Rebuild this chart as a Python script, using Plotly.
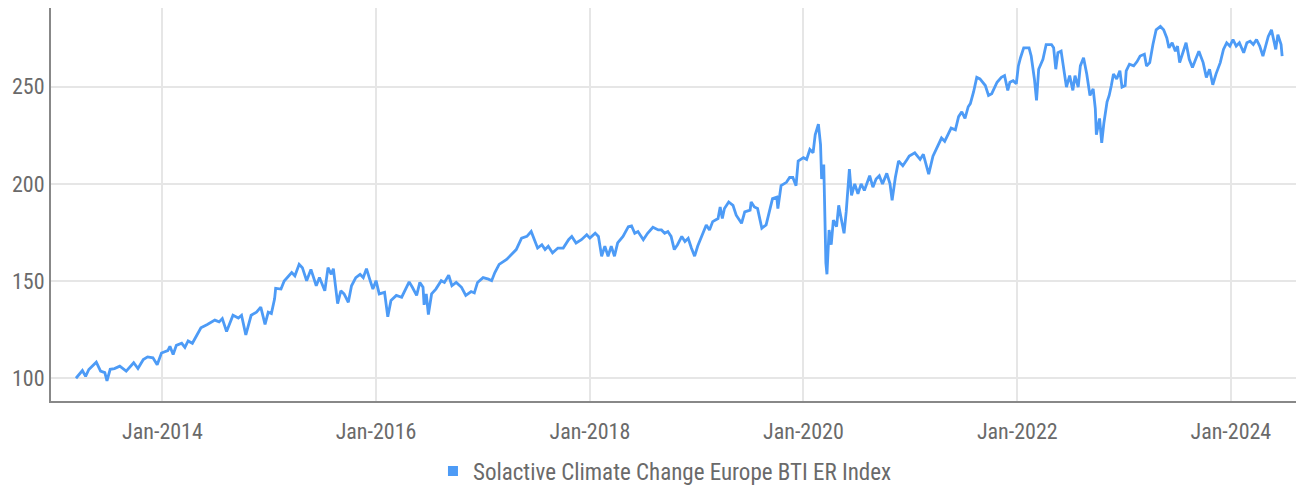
import datetime as dt
import plotly.graph_objects as go

# Time in decimal years, index level
years = [
    2013.19, 2013.25, 2013.28, 2013.31, 2013.38, 2013.42, 2013.46, 2013.48, 2013.51, 2013.55,
    2013.60, 2013.66, 2013.73, 2013.77, 2013.82, 2013.86, 2013.91, 2013.95, 2013.99, 2014.05,
    2014.07, 2014.10, 2014.13, 2014.18, 2014.21, 2014.24, 2014.28, 2014.32, 2014.36, 2014.42,
    2014.49, 2014.53, 2014.56, 2014.60, 2014.66, 2014.71, 2014.74, 2014.78, 2014.83, 2014.88,
    2014.92, 2014.96, 2014.99, 2015.02, 2015.05, 2015.06, 2015.11, 2015.14,
    2015.21, 2015.24, 2015.28, 2015.31, 2015.35, 2015.39, 2015.44, 2015.47, 2015.52, 2015.55,
    2015.58, 2015.60, 2015.64, 2015.67, 2015.70, 2015.74, 2015.77, 2015.81, 2015.85, 2015.88,
    2015.91, 2015.94, 2015.97, 2016.00, 2016.03, 2016.08, 2016.11, 2016.14, 2016.19, 2016.24,
    2016.27, 2016.31, 2016.34, 2016.38, 2016.41, 2016.44, 2016.45, 2016.47, 2016.49, 2016.52,
    2016.56, 2016.61, 2016.64, 2016.68, 2016.71, 2016.75, 2016.80, 2016.84, 2016.89, 2016.92,
    2016.95, 2017.00, 2017.05, 2017.08, 2017.11, 2017.15,
    2017.22, 2017.28, 2017.31, 2017.36, 2017.41, 2017.45, 2017.48, 2017.51, 2017.55, 2017.58,
    2017.61, 2017.65, 2017.70, 2017.75, 2017.80, 2017.83, 2017.87, 2017.92, 2017.97, 2018.00,
    2018.05, 2018.08, 2018.11, 2018.14, 2018.17, 2018.20, 2018.23, 2018.26, 2018.31, 2018.36,
    2018.39, 2018.42, 2018.45, 2018.50, 2018.54, 2018.59, 2018.64, 2018.67, 2018.70, 2018.73,
    2018.76, 2018.79, 2018.82, 2018.86, 2018.89, 2018.92, 2018.95, 2018.98, 2019.01,
    2019.06, 2019.09, 2019.12, 2019.15, 2019.20, 2019.22, 2019.24, 2019.26, 2019.30, 2019.34,
    2019.37, 2019.42, 2019.45, 2019.50, 2019.51, 2019.54, 2019.57, 2019.61, 2019.65, 2019.68,
    2019.71, 2019.75, 2019.76, 2019.79, 2019.84, 2019.87, 2019.90, 2019.93, 2019.95, 2020.00,
    2020.03, 2020.06, 2020.09, 2020.11, 2020.14, 2020.16, 2020.17, 2020.19, 2020.20, 2020.21,
    2020.22, 2020.24, 2020.26, 2020.28, 2020.31, 2020.33, 2020.35, 2020.38, 2020.40, 2020.41,
    2020.43, 2020.45, 2020.48, 2020.51, 2020.54, 2020.57, 2020.62, 2020.65, 2020.68, 2020.71,
    2020.74, 2020.78, 2020.81, 2020.83, 2020.86, 2020.89, 2020.93, 2020.97, 2020.99, 2021.04,
    2021.09, 2021.12, 2021.17, 2021.21, 2021.26, 2021.29, 2021.32, 2021.35, 2021.38, 2021.42,
    2021.45, 2021.48, 2021.51, 2021.54, 2021.56, 2021.59, 2021.62, 2021.65, 2021.70, 2021.73,
    2021.76, 2021.81, 2021.85, 2021.88, 2021.91, 2021.93, 2021.96, 2021.99, 2022.01, 2022.03,
    2022.06, 2022.09, 2022.11, 2022.13, 2022.16, 2022.18, 2022.20, 2022.24, 2022.27, 2022.32,
    2022.34, 2022.36, 2022.38, 2022.41, 2022.43, 2022.46, 2022.49, 2022.52, 2022.54, 2022.57,
    2022.59, 2022.62, 2022.65, 2022.68, 2022.71, 2022.73, 2022.74, 2022.77, 2022.79, 2022.81,
    2022.84, 2022.86, 2022.88, 2022.90, 2022.93, 2022.96, 2022.98, 2023.01, 2023.02, 2023.05,
    2023.09, 2023.12, 2023.15, 2023.19, 2023.21, 2023.24, 2023.27, 2023.30, 2023.34, 2023.37,
    2023.40, 2023.42, 2023.45, 2023.48, 2023.50, 2023.52, 2023.55, 2023.58, 2023.61, 2023.64,
    2023.67, 2023.70, 2023.74, 2023.77, 2023.80, 2023.83, 2023.86, 2023.90, 2023.93, 2023.96,
    2023.99, 2024.02, 2024.05, 2024.08, 2024.12, 2024.15, 2024.18, 2024.21, 2024.24, 2024.27,
    2024.30, 2024.32, 2024.35, 2024.38, 2024.40, 2024.42, 2024.44, 2024.47, 2024.48,
]

index_values = [
    100.0, 104.0, 101.0, 104.5, 108.3, 103.7, 102.9, 98.6, 104.6, 105.0,
    106.2, 103.7, 108.0, 105.0, 109.6, 111.0, 110.5, 107.0, 113.0, 114.2,
    116.4, 112.2, 116.9, 118.0, 115.9, 119.2, 118.0, 122.3, 126.0, 127.7,
    129.9, 129.0, 130.7, 124.0, 132.4, 131.0, 132.4, 122.3, 132.4, 134.0,
    136.6, 127.7, 134.0, 133.3, 140.9, 146.3, 145.9, 150.0,
    154.4, 152.7, 158.6, 156.9, 150.2, 156.0, 147.6, 151.8, 145.0, 156.9,
    153.5, 156.4, 138.4, 145.0, 143.4, 139.1, 147.6, 151.8, 153.5, 151.8,
    156.4, 151.0, 145.9, 150.2, 143.4, 144.2, 131.6, 140.0, 142.6, 141.7,
    145.0, 149.6, 146.8, 142.6, 149.3, 146.8, 137.8, 143.4, 132.8, 143.4,
    145.9, 150.2, 149.3, 153.0, 147.6, 149.3, 146.8, 142.6, 144.6, 143.9,
    149.3, 151.8, 151.0, 150.2, 154.4, 158.6,
    161.1, 164.5, 166.2, 172.1, 173.0, 175.5, 171.3, 167.0, 168.7, 166.2,
    167.9, 164.5, 167.0, 167.0, 171.3, 173.0, 169.6, 171.3, 173.8, 172.1,
    174.6, 173.0, 162.8, 167.9, 162.8, 167.9, 162.8, 169.6, 173.0, 178.0,
    178.4, 174.6, 175.5, 171.3, 174.6, 177.7, 176.3, 176.3, 174.6, 175.5,
    173.0, 166.2, 168.7, 173.0, 170.4, 172.0, 167.0, 162.8, 168.0,
    174.6, 178.9, 176.3, 180.6, 182.2, 188.1, 182.2, 187.3, 190.7, 189.0,
    183.9, 179.7, 185.6, 186.5, 190.7, 188.1, 187.3, 177.2, 178.9, 186.5,
    192.4, 193.2, 187.3, 199.1, 200.8, 203.3, 203.3, 199.1, 211.8, 213.5,
    212.6, 217.7, 216.0, 225.3, 230.7, 220.2, 202.5, 210.0, 188.1, 159.4,
    153.5, 176.3, 168.7, 181.4, 178.0, 189.0, 183.1, 174.6, 185.6, 193.2,
    207.6, 194.1, 200.0, 194.9, 200.0, 196.6, 204.2, 198.3, 202.5, 204.2,
    200.0, 205.4, 200.0, 191.5, 203.3, 211.8, 209.3, 212.6, 214.3, 216.0,
    212.6, 215.2, 205.0, 214.3, 220.2, 223.6, 221.9, 225.3, 228.7, 227.8,
    234.6, 237.1, 233.7, 239.7, 241.3, 247.3, 254.8, 254.0, 250.6, 245.5,
    246.4, 252.3, 254.8, 255.7, 248.1, 252.3, 253.1, 251.5, 260.7, 264.9,
    270.0, 270.0, 270.0, 265.8, 254.0, 243.0, 259.0, 264.1, 271.7, 271.7,
    270.0, 259.0, 267.5, 268.3, 260.7, 249.8, 255.7, 248.1, 255.7, 249.8,
    260.7, 264.9, 256.5, 245.5, 248.9, 238.8, 225.3, 233.7, 221.1, 231.2,
    242.2, 245.5, 250.6, 256.5, 254.0, 258.2, 249.8, 250.6, 258.2, 261.6,
    260.7, 262.8, 265.8, 266.7, 260.7, 262.4, 271.7, 279.3, 281.0, 279.3,
    275.1, 270.0, 272.6, 268.3, 270.9, 262.4, 267.5, 272.6, 264.1, 259.9,
    264.1, 268.3, 262.4, 254.8, 259.0, 251.0, 256.5, 262.4, 269.2, 272.6,
    270.9, 274.3, 270.9, 272.6, 267.5, 272.6, 273.4, 271.7, 274.3, 270.9,
    265.8, 270.0, 275.9, 279.3, 273.4, 269.2, 276.8, 271.7, 265.8,
]

series_name = "Solactive Climate Change Europe BTI ER Index"
y_ticks = [100, 150, 200, 250]


def to_date(y):
    year = int(y)
    start = dt.datetime(year, 1, 1)
    return start + dt.timedelta(days=(y - year) * 365.25)


dates = [to_date(y) for y in years]

LINE_COLOR = "#4d9bf6"
TEXT_COLOR = "#6a6a6a"
FONT = "Liberation Sans Narrow, Roboto Condensed, Roboto, sans-serif"

fig = go.Figure()
fig.add_trace(go.Scatter(
    x=dates, y=index_values, mode="lines",
    line=dict(color=LINE_COLOR, width=2.8),
    name=series_name, showlegend=False, legendgroup="s",
))
fig.add_trace(go.Scatter(
    x=[None], y=[None], mode="markers",
    marker=dict(symbol="square", size=10, color=LINE_COLOR),
    name=series_name, showlegend=True, legendgroup="s",
))

fig.update_layout(
    width=1296, height=485,
    margin=dict(l=43, r=0, t=0, b=86),
    paper_bgcolor="white", plot_bgcolor="white",
    font=dict(family=FONT, size=22, color=TEXT_COLOR),
    legend=dict(orientation="h", x=0.49, xanchor="center", y=-0.178, yanchor="middle",
                font=dict(size=23, color=TEXT_COLOR), itemwidth=30),
    xaxis=dict(
        type="date",
        range=[dt.datetime(2012, 12, 16), dt.datetime(2024, 9, 7)],
        tick0="2014-01-01", dtick="M24", tickformat="%b-%Y",
        showgrid=True, gridcolor="#e6e6e6", gridwidth=2,
        showline=True, linecolor="#888888", linewidth=2,
        ticks="outside", ticklen=10, tickcolor="rgba(0,0,0,0)", zeroline=False,
        tickfont=dict(size=22, color=TEXT_COLOR),
    ),
    yaxis=dict(
        range=[88.3, 290.5], tickvals=y_ticks,
        showgrid=True, gridcolor="#e6e6e6", gridwidth=2,
        showline=True, linecolor="#888888", linewidth=2,
        ticks="", zeroline=False,
        tickfont=dict(size=22, color=TEXT_COLOR),
    ),
)

fig.write_html("out.html")
